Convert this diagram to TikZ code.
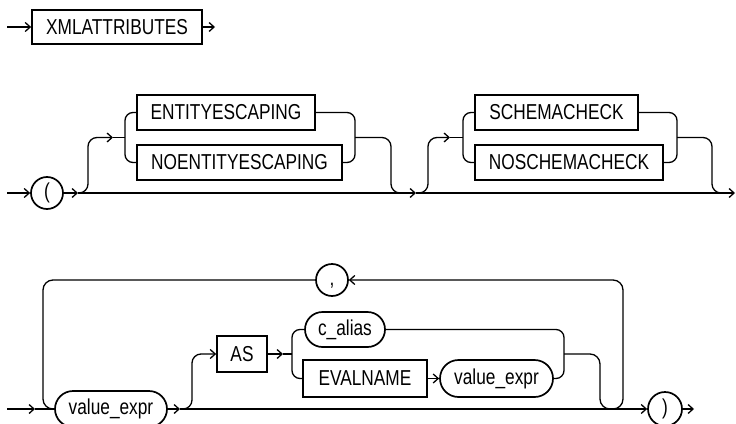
\documentclass[tikz,border=0pt]{standalone}
\usepackage{fontspec}
\setmainfont{Liberation Sans}[FakeStretch=0.8]
\usetikzlibrary{arrows.meta,shapes.misc}
\begin{document}
\begin{tikzpicture}[x=1pt,y=-1pt,line width=1.3pt,
  arr/.style={-{Straight Barb[length=5pt,width=9pt]}},
  txt/.style={font=\fontsize{21.6}{23}\selectfont},
  kw/.style={txt,draw,rectangle,line width=1.7pt,inner sep=0pt},
  ov/.style={txt,draw,rounded rectangle,line width=1.7pt,inner sep=0pt},
  circ/.style={txt,draw,circle,line width=1.7pt,inner sep=0pt,minimum size=32pt}]
\useasboundingbox (0,0) rectangle (736,423);
\clip (0,0) rectangle (736,423);
% ---------- row 1
\node[kw,minimum width=170pt,minimum height=34pt] (xml) at (117,27) {XMLATTRIBUTES};
\coordinate (s1) at (7,27);
\coordinate (e1) at (215,27);
\draw[arr] (s1) -- (xml.west);
\draw[arr] (xml.east) -- (e1);
% ---------- row 2
\node[circ] (lp) at (47,193) {(};
\node[kw,minimum width=178pt,minimum height=35pt] (ent) at (226,112.5) {ENTITYESCAPING};
\node[kw,minimum width=205pt,minimum height=35pt] (noent) at (239.5,162.5) {NOENTITYESCAPING};
\node[kw,minimum width=163pt,minimum height=35pt] (sch) at (556.5,112.5) {SCHEMACHECK};
\node[kw,minimum width=188pt,minimum height=35pt] (nosch) at (569,162.5) {NOSCHEMACHECK};
\coordinate (s2) at (7,193);
\coordinate (a2) at (78,193);
\coordinate (m2) at (416,193);
\coordinate (e2) at (735,193);
\coordinate (g1in) at (113,137.5);
\coordinate (L1) at (125,137.5);
\coordinate (R1) at (355,137.5);
\coordinate (g2in) at (450,137.5);
\coordinate (L2) at (463,137.5);
\coordinate (R2) at (677,137.5);
\draw[arr] (s2) -- (lp.west);
\draw[arr] (lp.east) -- (a2);
\draw[arr] (a2) -- (m2);
\draw[arr] (m2) -- (e2);
\draw[arr,rounded corners=9pt] (a2) -| (88,137.5) -- (g1in);
\draw (g1in) -- (L1);
\draw[rounded corners=8pt] (ent.west) -| (L1) |- (noent.west);
\draw[rounded corners=8pt] (ent.east) -| (R1) |- (noent.east);
\draw[rounded corners=9pt] (R1) -| (391,193) -- (404,193);
\draw[arr,rounded corners=9pt] (m2) -| (428,137.5) -- (g2in);
\draw (g2in) -- (L2);
\draw[rounded corners=8pt] (sch.west) -| (L2) |- (nosch.west);
\draw[rounded corners=8pt] (sch.east) -| (R2) |- (nosch.east);
\draw[rounded corners=9pt] (R2) -| (712,193) -- (724,193);
% ---------- row 3
\node[ov,minimum width=112pt,minimum height=36pt] (ve1) at (111,409) {value\_expr};
\node[circ] (comma) at (332,280) {\vphantom{(},};
\node[kw,minimum width=50pt,minimum height=36pt] (as) at (242,354) {AS};
\node[ov,minimum width=80pt,minimum height=35pt] (cal) at (345,329.5) {c\_alias};
\node[kw,minimum width=124pt,minimum height=37pt] (eval) at (365,378.5) {EVALNAME};
\node[ov,minimum width=113pt,minimum height=37pt] (ve2) at (496.5,378.5) {value\_expr};
\node[circ,minimum size=34pt] (rp) at (665,409) {)};
\coordinate (s3) at (7,409);
\coordinate (a3) at (35,409);
\coordinate (a3b) at (180,409);
\coordinate (a3c) at (283,354);
\coordinate (L3) at (292,354);
\coordinate (R3) at (564,354);
\coordinate (u3) at (612,409);
\coordinate (e3) at (694,409);
\draw[arr] (s3) -- (a3);
\draw (a3) -- (ve1.west);
\draw[arr] (ve1.east) -- (a3b);
\draw[arr] (a3b) -- (rp.west);
\draw[arr] (rp.east) -- (e3);
\draw[arr,rounded corners=9pt] (a3b) -| (192,354) -- (as.west);
\draw[arr] (as.east) -- (a3c);
\draw (a3c) -- (L3);
\draw[rounded corners=8pt] (cal.west) -| (L3) |- (eval.west);
\draw[arr] (eval.east) -- (ve2.west);
\draw[rounded corners=8pt] (cal.east) -| (R3) |- (ve2.east);
\draw[rounded corners=10pt] (R3) -| (600,409) -- (u3);
\draw[arr,rounded corners=10pt] (u3) -| (623,280) -- (comma.east);
\draw[rounded corners=10pt] (comma.west) -| (43,409) -- (ve1.west);
\end{tikzpicture}
\end{document}
